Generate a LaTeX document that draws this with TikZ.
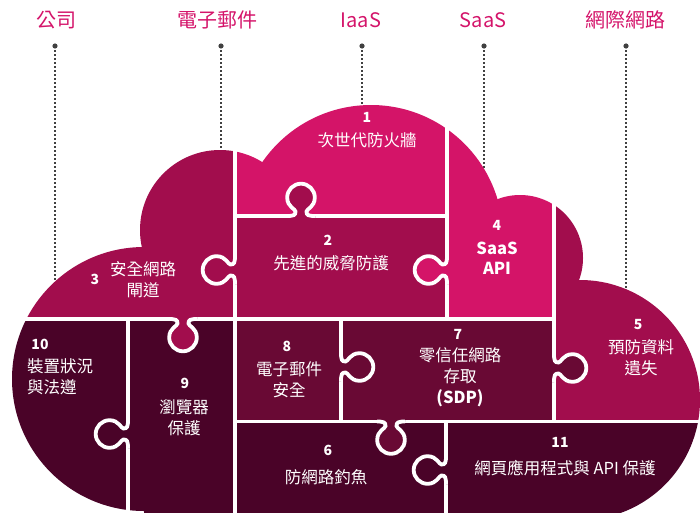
\documentclass[tikz,border=0pt]{standalone}
\usepackage{fontspec}
\setmainfont{Noto Sans CJK TC}
\definecolor{pinkA}{HTML}{D41468}
\definecolor{magB}{HTML}{A20D4D}
\definecolor{midC}{HTML}{690934}
\definecolor{darkD}{HTML}{4A0328}
\definecolor{dotG}{HTML}{404040}
\definecolor{labP}{HTML}{D4146A}
\newcommand{\cloudfill}[1]{%
  \fill[#1] (144,379) circle[radius=132];
  \fill[#1] (220,230) circle[radius=80];
  \fill[#1] (371,237) circle[radius=132];
  \fill[#1] (520,258) circle[radius=63];
  \fill[#1] (580,400) circle[radius=120];
  \fill[#1] (144,379) -- (220,230) -- (371,237) -- (520,258) -- (580,400) -- (580,520) -- (144,520) -- cycle;
}
\newcommand{\piecefill}[3]{%
  \begin{scope}
    \clip (#1) rectangle (#2);
    \cloudfill{#3}
  \end{scope}}
\newcommand{\knobpath}{(-14,0) .. controls (-7,0) and (-5.5,1) .. (-5.5,4.5) .. controls (-5.5,7) and (-13.8,9) .. (-13.8,18.5) .. controls (-13.8,26.1) and (-7.6,32.3) .. (0,32.3) .. controls (7.6,32.3) and (13.8,26.1) .. (13.8,18.5) .. controls (13.8,9) and (5.5,7) .. (5.5,4.5) .. controls (5.5,1) and (7,0) .. (14,0)}
\newcommand{\tabknob}[4]{%
  \begin{scope}[shift={(#1,#2)}, rotate=#3]
    \fill[#4] \knobpath -- (14,-3) -- (-14,-3) -- cycle;
    \draw[sepline] \knobpath;
  \end{scope}}
\begin{document}
\begin{tikzpicture}[x=1pt,y=-1pt,
  sepline/.style={white, line width=3.8pt},
  dotline/.style={draw=dotG, line width=2pt, dash pattern=on 2pt off 2pt},
  toplab/.style={text=labP, font=\fontsize{20}{24}\selectfont, inner sep=0pt},
  numlab/.style={text=white, font=\bfseries\fontsize{14}{16}\selectfont, inner sep=0pt},
  txtlab/.style={text=white, font=\fontsize{16.5}{21}\selectfont, align=center, inner sep=0pt},
  boldlab/.style={txtlab, font=\bfseries\fontsize{16.5}{20}\selectfont}]
\useasboundingbox (0,0) rectangle (700,514);

% top labels
\node[toplab] (l1) at (56,20) {公司};
\node[toplab] (l2) at (217,20) {電子郵件};
\node[toplab] (l3) at (361,20) {IaaS};
\node[toplab] (l4) at (483,20) {SaaS};
\node[toplab] (l5) at (625,20) {網際網路};

% dotted connectors
\coordinate (d1) at (55,46);  \coordinate (e1) at (55,286);
\coordinate (d2) at (221,46); \coordinate (e2) at (221,154);
\coordinate (d3) at (362,46); \coordinate (e3) at (362,109);
\coordinate (d4) at (484,46); \coordinate (e4) at (484,173);
\coordinate (d5) at (626,46); \coordinate (e5) at (626,293);
\foreach \i in {1,...,5}{
  \draw[dotline] (d\i) -- (e\i);
  \fill[dotG] (d\i) circle[radius=2.6];
}

% pieces
\piecefill{0,0}{235,319}{magB}
\piecefill{235,0}{447,216}{pinkA}
\piecefill{235,216}{447,319}{magB}
\piecefill{447,0}{554,319}{pinkA}
\piecefill{554,0}{700,421.5}{magB}
\piecefill{0,319}{128,512}{darkD}
\piecefill{128,319}{235,512}{darkD}
\piecefill{235,319}{341,421.5}{midC}
\piecefill{341,319}{554,421.5}{midC}
\piecefill{235,421.5}{446,512}{darkD}
\piecefill{446,421.5}{700,512}{darkD}

% separating lines
\draw[sepline] (235,100) -- (235,514);
\draw[sepline] (235,216) -- (447,216);
\draw[sepline] (447,100) -- (447,319);
\draw[sepline] (554,150) -- (554,421.5);
\draw[sepline] (0,319) -- (554,319);
\draw[sepline] (128,319) -- (128,514);
\draw[sepline] (341,319) -- (341,421.5);
\draw[sepline] (235,421.5) -- (700,421.5);
\draw[sepline] (446,421.5) -- (446,514);

% puzzle tabs
\tabknob{301}{216}{180}{magB}
\tabknob{235}{270}{-90}{magB}
\tabknob{447}{270}{-90}{pinkA}
\tabknob{183}{319}{0}{magB}
\tabknob{128}{434}{-90}{darkD}
\tabknob{341}{367}{90}{midC}
\tabknob{554}{368}{90}{midC}
\tabknob{391}{421.5}{0}{midC}
\tabknob{446}{470}{-90}{darkD}

% numbers
\node[numlab] (n1) at (367,117) {1};
\node[numlab] (n2) at (328,240) {2};
\node[numlab] (n3) at (95,279) {3};
\node[numlab] (n4) at (497,225) {4};
\node[numlab] (n5) at (638,325) {5};
\node[numlab] (n6) at (328,450) {6};
\node[numlab] (n7) at (458,334) {7};
\node[numlab] (n8) at (287,346) {8};
\node[numlab] (n9) at (185,383) {9};
\node[numlab] (n10) at (40,344) {10};
\node[numlab] (n11) at (560,442) {11};

% texts
\node[txtlab] (t1) at (367,140) {次世代防火牆};
\node[txtlab] (t2) at (331,263) {先進的威脅防護};
\node[txtlab] (t3) at (143,280) {安全網路\\閘道};
\node[boldlab] (t4) at (497,258) {SaaS\\API};
\node[txtlab] (t5) at (641,358) {預防資料\\遺失};
\node[txtlab] (t6) at (326,477) {防網路釣魚};
\node[txtlab] (t7) at (460,377) {零信任網路\\存取\\{\bfseries (SDP)}};
\node[txtlab] (t8) at (289,380) {電子郵件\\安全};
\node[txtlab] (t9) at (184,418) {瀏覽器\\保護};
\node[txtlab, align=left, anchor=west] (t10) at (27,377) {裝置狀況\\與法遵};
\node[txtlab] (t11) at (565,468) {網頁應用程式與 API 保護};
\end{tikzpicture}
\end{document}
